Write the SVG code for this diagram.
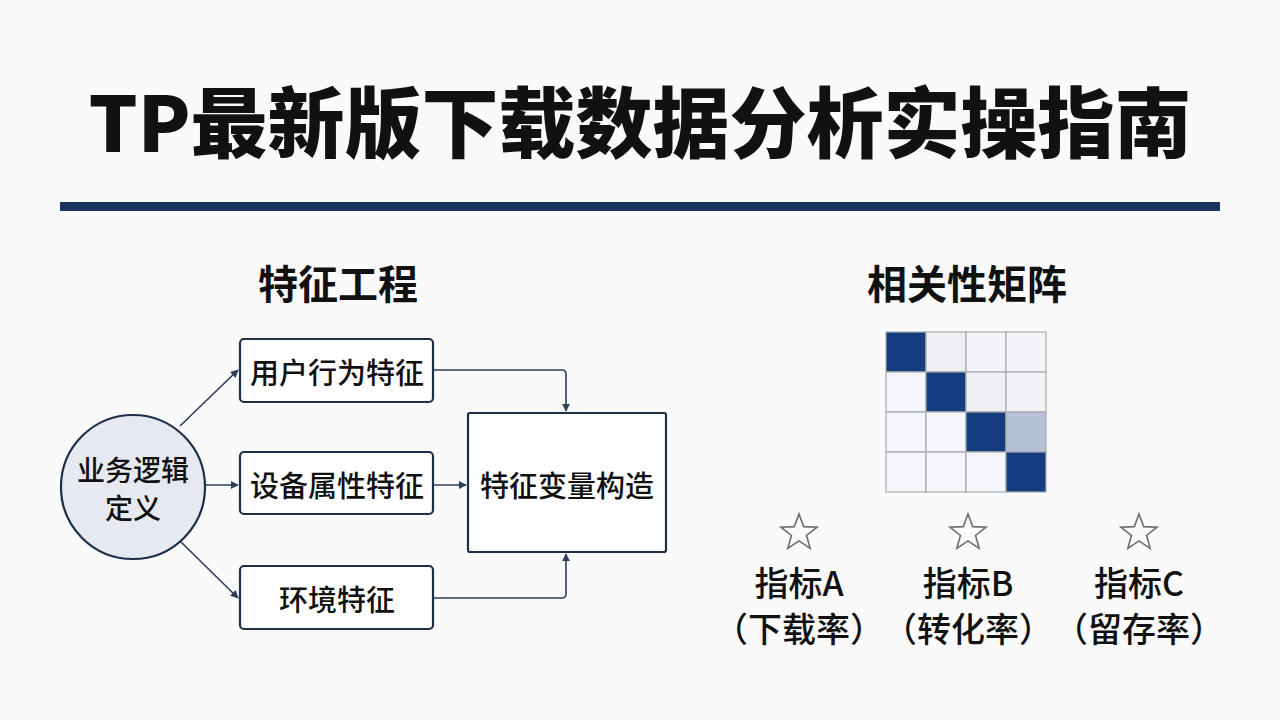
<svg xmlns="http://www.w3.org/2000/svg" width="1280" height="720" viewBox="0 0 1280 720">
<defs>
<style>
.t{font-family:"Noto Sans CJK SC","Noto Sans",sans-serif;fill:#111;text-anchor:middle;dominant-baseline:central}
.m{font-weight:500}
.box{fill:#fff;stroke:#1e2f4a;stroke-width:2.2}
.con{fill:none;stroke:#2c3e5a;stroke-width:1.6}
.cell{stroke:#a8abb0;stroke-width:1.2}
.star{fill:none;stroke:#6a6d72;stroke-width:1.6;stroke-linejoin:miter}
</style>
<marker id="ah" viewBox="0 0 10 10" refX="9" refY="5" markerWidth="8" markerHeight="8" markerUnits="userSpaceOnUse" orient="auto">
<path d="M0,0 L10,5 L0,10 z" fill="#2c3e5a"/>
</marker>
<path id="st" d="M0,-19 L4.65,-6.4 L18.07,-5.87 L7.52,2.45 L11.17,15.37 L0,7.9 L-11.17,15.37 L-7.52,2.45 L-18.07,-5.87 L-4.65,-6.4 Z"/>
</defs>
<rect width="1280" height="720" fill="#fafafa"/>
<g id="title">
<text class="t" x="640" y="118" font-size="77" font-weight="900">TP最新版下载数据分析实操指南</text>
<rect x="60" y="202" width="1160" height="9" fill="#1b3461"/>
</g>
<g id="heading-left"><text class="t" x="338" y="282" font-size="40" font-weight="700">特征工程</text></g>
<g id="heading-right"><text class="t" x="967" y="282" font-size="40" font-weight="700">相关性矩阵</text></g>
<g id="connectors">
<line class="con" x1="180" y1="426" x2="238" y2="370" marker-end="url(#ah)"/>
<line class="con" x1="205" y1="485" x2="238" y2="485" marker-end="url(#ah)"/>
<line class="con" x1="180" y1="541" x2="238" y2="598" marker-end="url(#ah)"/>
<path class="con" d="M433,370 H562 Q566,370 566,374 V411" marker-end="url(#ah)"/>
<line class="con" x1="433" y1="485" x2="466" y2="485" marker-end="url(#ah)"/>
<path class="con" d="M433,598 H562 Q566,598 566,594 V554" marker-end="url(#ah)"/>
</g>
<g id="node-business">
<circle cx="133" cy="487" r="72" fill="#e6eaf0" stroke="#1e2f4a" stroke-width="2.2"/>
<text class="t m" x="133" y="469" font-size="28">业务逻辑</text>
<text class="t m" x="133" y="507" font-size="28">定义</text>
</g>
<g id="node-user">
<rect class="box" x="240" y="339" width="193" height="63" rx="4"/>
<text class="t m" x="337" y="371" font-size="29">用户行为特征</text>
</g>
<g id="node-device">
<rect class="box" x="240" y="452" width="193" height="62" rx="4"/>
<text class="t m" x="337" y="484" font-size="29">设备属性特征</text>
</g>
<g id="node-env">
<rect class="box" x="240" y="566" width="193" height="63" rx="4"/>
<text class="t m" x="337" y="598" font-size="29">环境特征</text>
</g>
<g id="node-construct">
<rect class="box" x="468" y="413" width="198" height="139" rx="2"/>
<text class="t m" x="567" y="484" font-size="29">特征变量构造</text>
</g>
<g id="matrix">
<rect class="cell" x="886" y="332" width="40" height="40" fill="#143c7e"/>
<rect class="cell" x="926" y="332" width="40" height="40" fill="#eef0f4"/>
<rect class="cell" x="966" y="332" width="40" height="40" fill="#f3f5f8"/>
<rect class="cell" x="1006" y="332" width="40" height="40" fill="#f3f5f8"/>
<rect class="cell" x="886" y="372" width="40" height="40" fill="#f5f6f9"/>
<rect class="cell" x="926" y="372" width="40" height="40" fill="#143c7e"/>
<rect class="cell" x="966" y="372" width="40" height="40" fill="#eef0f4"/>
<rect class="cell" x="1006" y="372" width="40" height="40" fill="#f0f2f5"/>
<rect class="cell" x="886" y="412" width="40" height="40" fill="#f5f6f9"/>
<rect class="cell" x="926" y="412" width="40" height="40" fill="#f5f6f9"/>
<rect class="cell" x="966" y="412" width="40" height="40" fill="#143c7e"/>
<rect class="cell" x="1006" y="412" width="40" height="40" fill="#b6c1d8"/>
<rect class="cell" x="886" y="452" width="40" height="40" fill="#f5f6f9"/>
<rect class="cell" x="926" y="452" width="40" height="40" fill="#f5f6f9"/>
<rect class="cell" x="966" y="452" width="40" height="40" fill="#f5f6f9"/>
<rect class="cell" x="1006" y="452" width="40" height="40" fill="#143c7e"/>
</g>
<g id="metric-a">
<use href="#st" class="star" x="799" y="533"/>
<text class="t m" x="799" y="581" font-size="34">指标A</text>
<text class="t m" x="799" y="627" font-size="34">（下载率）</text>
</g>
<g id="metric-b">
<use href="#st" class="star" x="968" y="533"/>
<text class="t m" x="968" y="581" font-size="34">指标B</text>
<text class="t m" x="968" y="627" font-size="34">（转化率）</text>
</g>
<g id="metric-c">
<use href="#st" class="star" x="1139" y="533"/>
<text class="t m" x="1139" y="581" font-size="34">指标C</text>
<text class="t m" x="1139" y="627" font-size="34">（留存率）</text>
</g>
</svg>
